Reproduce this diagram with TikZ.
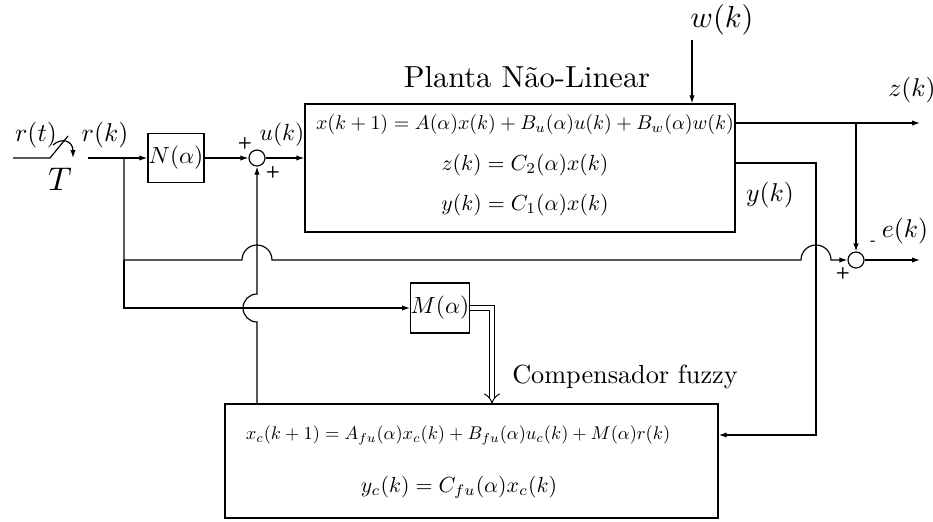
\documentclass[tikz,border=0pt]{standalone}
\usepackage{tikz}
\usetikzlibrary{arrows.meta,positioning,calc}
\tikzset{
  blk/.style   ={draw,line width=0.6pt,inner sep=0pt,align=center},
  sumj/.style  ={draw,circle,minimum size=0.24cm,inner sep=0pt,line width=0.5pt},
  wire/.style  ={line width=0.5pt},
  sig/.style   ={-{Latex[length=1.2mm,width=0.8mm]},line width=0.5pt},
  dbl/.style   ={-Implies,line width=0.4pt,double,double distance=0.7mm},
  sgn/.style   ={font=\scriptsize\sffamily\bfseries,inner sep=0pt},
  lbl/.style   ={inner sep=0pt,scale=1.1},
  title/.style ={inner sep=0pt,scale=1.3},
  eq/.style    ={inner sep=0pt,scale=0.93},
  smalleq/.style={inner sep=0pt,scale=0.85}
}

\begin{document}
\begin{tikzpicture}[x=0.015cm,y=-0.015cm]
  \useasboundingbox (0,0) rectangle (933,521);
  % sampler
  \coordinate (rin) at (13,158);
  \coordinate (swa) at (50,158);
  \coordinate (swb) at (68,136);
  \coordinate (arcs) at (53,145);
  \coordinate (arce) at (73,158);
  \draw[wire] (rin) -- (swa) -- (swb);
  \draw[sig] (arcs) .. controls (62,137) and (73,141) .. (arce);
  \node[lbl] (rt) at (36,135) {$r(t)$};
  \node[inner sep=0pt,scale=1.4] (tt) at (60,179) {$T$};
  \node[lbl] (rk) at (105,135) {$r(k)$};
  % forward path
  \coordinate (rout) at (88,158);
  \coordinate (br) at (124,158);
  \node[blk,minimum width=0.84cm,minimum height=0.735cm] (N) at (176,158) {$N(\alpha)$};
  \node[sumj] (s1) at (257,158) {};
  \node[sgn] (s1p) at (245,143) {+};
  \node[sgn] (s1q) at (273,172) {+};
  \node[inner sep=0pt] (uk) at (282,135) {$u(k)$};
  \node[blk,minimum width=6.45cm,minimum height=1.92cm] (plant) at (520,168) {};
  \node[smalleq] (pe1) at (525,125) {$x(k+1)=A(\alpha)x(k)+B_u(\alpha)u(k)+B_w(\alpha)w(k)$};
  \node[eq] (pe2) at (525,165) {$z(k)=C_2(\alpha)x(k)$};
  \node[eq] (pe3) at (525,205) {$y(k)=C_1(\alpha)x(k)$};
  \node[title] (ptl) at (527,77) {Planta Não-Linear};
  \node[title] (wk) at (722,20) {$w(k)$};
  \coordinate (wtop) at (692,40);
  \draw[sig] (rout) -- (N.west);
  \draw[sig] (N.east) -- (s1.west);
  \draw[sig] (s1.east) -- (plant.west |- s1);
  \draw[sig] (wtop) -- (plant.north -| wtop);
  % outputs
  \coordinate (zo) at (735,123);
  \coordinate (zb) at (856,123);
  \coordinate (zend) at (920,123);
  \coordinate (yo) at (735,163);
  \coordinate (yc1) at (816,163);
  \coordinate (yc2) at (816,435);
  \node[lbl] (zk) at (912,90) {$z(k)$};
  \node[lbl] (yk) at (770,195) {$y(k)$};
  \node[sumj] (s2) at (856,260) {};
  \node[sgn] (s2m) at (873,243) {-};
  \node[sgn] (s2p) at (843,273) {+};
  \node[lbl] (ek) at (905,231) {$e(k)$};
  \coordinate (eend) at (920,260);
  \draw[sig] (zo) -- (zend);
  \draw[sig] (zb) -- (s2.north);
  \draw[sig] (s2.east) -- (eend);
  % reference branches
  \coordinate (b1) at (124,260);
  \coordinate (b2) at (124,308);
  \coordinate (h1) at (242,260);
  \coordinate (h2) at (801,260);
  \draw[sig] (br) -- (b1) -- (h1) arc[start angle=180,end angle=0,radius=0.225cm]
    -- (h2) arc[start angle=180,end angle=0,radius=0.225cm] -- (s2.west);
  \node[blk,minimum width=0.84cm,minimum height=0.75cm] (M) at (440,308) {$M(\alpha)$};
  \draw[sig] (b1) -- (b2) -- (M.west);
  % compensator
  \node[blk,minimum width=7.395cm,minimum height=1.71cm] (comp) at (471.5,461) {};
  \node[inner sep=0pt,scale=0.785] (ce1) at (458,435) {$x_c(k+1)=A_{fu}(\alpha)x_c(k)+B_{fu}(\alpha)u_c(k)+M(\alpha)r(k)$};
  \node[eq] (ce2) at (459,487) {$y_c(k)=C_{fu}(\alpha)x_c(k)$};
  \node[inner sep=0pt,scale=1.12] (ctl) at (625,377) {Compensador fuzzy};
  \coordinate (mdn) at (492,404);
  \draw[dbl] (M.east) -| (mdn);
  \draw[sig] (yo) -- (yc1) -- (yc2) -- (comp.east |- yc2);
  \coordinate (fbb) at (257,404);
  \coordinate (hv) at (257,322);
  \draw[sig] (fbb) -- (hv) arc[start angle=270,end angle=90,radius=0.21cm] -- (s1.south);
\end{tikzpicture}
\end{document}
